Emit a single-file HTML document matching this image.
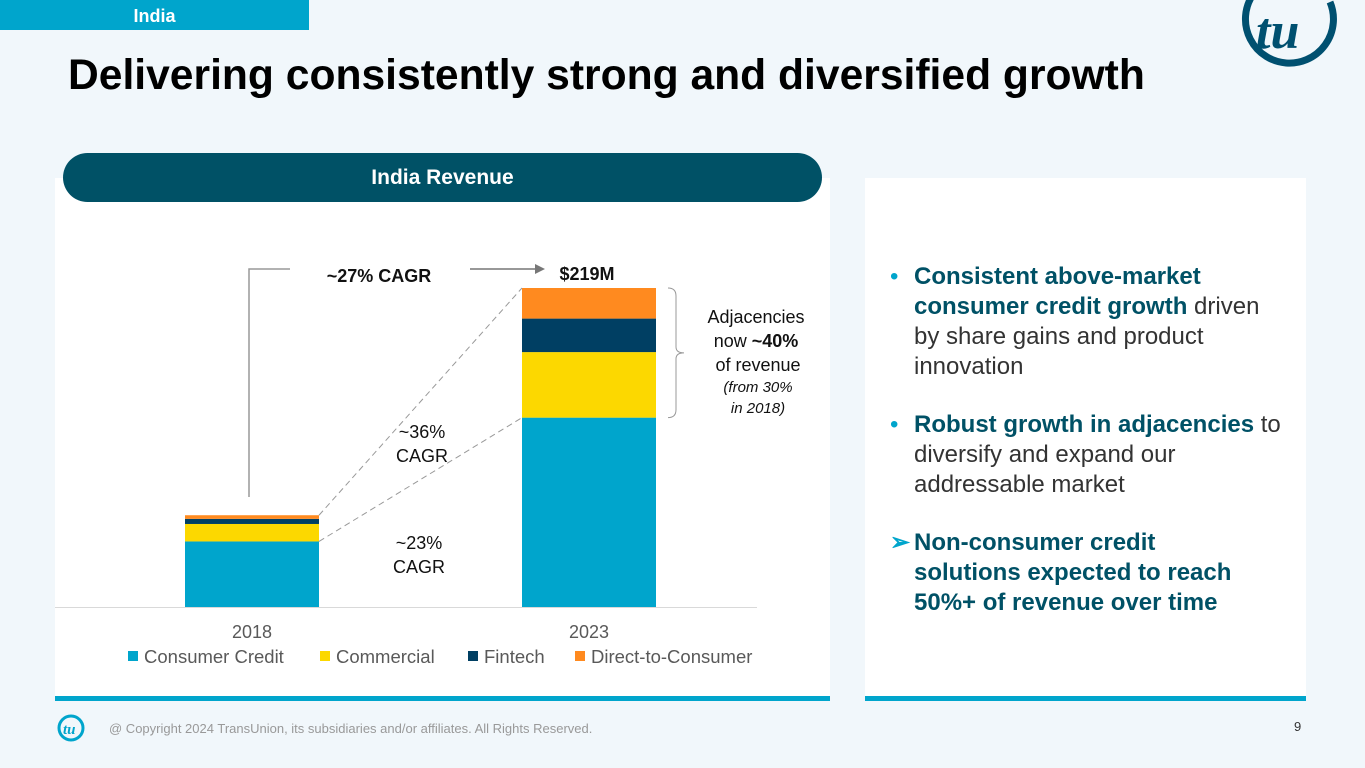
<!DOCTYPE html>
<html><head><meta charset="utf-8"><style>
body{margin:0;width:1365px;height:768px;background:#f1f7fb;font-family:"Liberation Sans",sans-serif;position:relative;overflow:hidden}
.a{position:absolute}
</style></head><body>
<div class="a" style="left:0;top:0;width:309px;height:30px;background:#00a5cc;color:#fff;font-weight:bold;font-size:18px;text-align:center;line-height:32px">India</div>
<div class="a" style="left:68px;top:51px;font-size:42.6px;font-weight:bold;color:#000;white-space:nowrap">Delivering consistently strong and diversified growth</div>
<svg class="a" style="left:1230px;top:0" width="120" height="80" viewBox="0 0 120 80">
<path d="M22 -4 A44 44 0 1 0 100 2" fill="none" stroke="#005070" stroke-width="7"/>
<text x="26" y="48" font-family="Liberation Serif,serif" font-style="italic" font-weight="bold" font-size="52" fill="#005070">tu</text>
</svg>
<div class="a" style="left:55px;top:178px;width:775px;height:518px;background:#fff;border-bottom:5px solid #00a5cc"></div>
<div class="a" style="left:865px;top:178px;width:441px;height:518px;background:#fff;border-bottom:5px solid #00a5cc"></div>
<div class="a" style="left:63px;top:153px;width:759px;height:49px;background:#005166;border-radius:25px;color:#fff;font-weight:bold;font-size:21px;text-align:center;line-height:50px">India Revenue</div>
<svg class="a" id="chart" style="left:0;top:0" width="1365" height="768"></svg>
<div class="a" style="left:890px;top:262px;width:400px;font-size:24px;line-height:30px;color:#333">
<div style="position:relative;padding-left:24px"><span style="position:absolute;left:0;color:#00a5cc">•</span><b style="color:#005166">Consistent above-market consumer credit growth</b> driven by share gains and product innovation</div>
<div style="position:relative;padding-left:24px;margin-top:28px"><span style="position:absolute;left:0;color:#00a5cc">•</span><b style="color:#005166">Robust growth in adjacencies</b> to diversify and expand our addressable market</div>
<div style="position:relative;padding-left:24px;margin-top:28px;font-weight:bold;color:#005166;width:350px"><span style="position:absolute;left:0;color:#00a5cc">➢</span>Non-consumer credit solutions expected to reach 50%+ of revenue over time</div>
</div>
<svg class="a" style="left:56px;top:713px" width="34" height="30"><circle cx="15" cy="15" r="12" fill="none" stroke="#00a5cc" stroke-width="3"/><text x="7" y="21" font-size="15" font-style="italic" font-weight="bold" fill="#00a5cc" font-family="Liberation Serif,serif">tu</text></svg>
<div class="a" style="left:109px;top:721px;font-size:13px;color:#999">@ Copyright 2024 TransUnion, its subsidiaries and/or affiliates.  All Rights Reserved.</div>
<div class="a" style="left:1294px;top:719px;font-size:13px;color:#333">9</div>
<script>
const categories=["2018","2023"];
const seriesNames=["Consumer Credit","Commercial","Fintech","Direct-to-Consumer"];
const consumerCredit=[45,130];
const commercial=[12,45];
const fintech=[3.5,23];
const dtc=[2.5,21];
const colors=["#00a5cc","#fcd800","#003f63","#ff8a1f"];
const svg=document.getElementById('chart');
const NS="http://www.w3.org/2000/svg";
const base=607, pxPer=319/219;
const y=v=>base-v*pxPer;
const xc=i=>252+i*337;
const bw=134;
function el(t,a){const e=document.createElementNS(NS,t);for(const k in a)e.setAttribute(k,a[k]);svg.appendChild(e);return e;}
const series=[consumerCredit,commercial,fintech,dtc];
const tops=[];
categories.forEach((c,i)=>{
  let cum=0;tops.push([]);
  series.forEach((s,j)=>{
    const r=el('rect',{x:xc(i)-bw/2,y:y(cum+s[i]),width:bw,height:s[i]*pxPer,fill:colors[j]});
    
    
    cum+=s[i];tops[i].push(y(cum));
  });
  const t=el('text',{x:xc(i),y:638,'text-anchor':'middle','font-size':18,fill:'#595959'});
  t.textContent=c;
  
  
});
el('line',{x1:55,x2:757,y1:base+0.5,y2:base+0.5,stroke:'#d9d9d9'});
const d={stroke:'#999','stroke-dasharray':'6,4',fill:'none'};
el('line',Object.assign({x1:xc(0)+bw/2,y1:tops[0][3],x2:xc(1)-bw/2,y2:tops[1][3]},d));
el('line',Object.assign({x1:xc(0)+bw/2,y1:tops[0][0],x2:xc(1)-bw/2,y2:tops[1][0]},d));
el('polyline',{points:`249,497 249,269 290,269`,stroke:'#999',fill:'none','stroke-width':1.5});
el('line',{x1:470,y1:269,x2:540,y2:269,stroke:'#777','stroke-width':1.5});
el('polygon',{points:'545,269 535,264 535,274',fill:'#777'});
const bt=tops[1][3],bb=tops[1][0],bm=(bt+bb)/2;
el('path',{d:`M668 ${bt} Q676 ${bt} 676 ${bt+8} L676 ${bm-6} Q676 ${bm} 684 ${bm} Q676 ${bm} 676 ${bm+6} L676 ${bb-8} Q676 ${bb} 668 ${bb}`,stroke:'#999',fill:'none'});
function txt(x,yy,s,o){const t=el('text',Object.assign({x:x,y:yy,'text-anchor':'middle','font-size':18,fill:'#111'},o||{}));t.innerHTML=s;return t;}
txt(379,282,'~27% CAGR',{'font-weight':'bold'});
txt(587,280,'$'+(consumerCredit[1]+commercial[1]+fintech[1]+dtc[1])+'M',{'font-weight':'bold'});
txt(422,438,'~36%');txt(422,462,'CAGR');
txt(419,549,'~23%');txt(419,573,'CAGR');
txt(756,323,'Adjacencies');
txt(756,347,'now <tspan font-weight="bold">~40%</tspan>');
txt(758,371,'of revenue');
txt(758,392,'(from 30%',{'font-style':'italic','font-size':15});
txt(758,413,'in 2018)',{'font-style':'italic','font-size':15});
let lx=128;
const lw=[192,148,107,190];
seriesNames.forEach((n,j)=>{
  const r=el('rect',{x:lx,y:651,width:10,height:10,fill:colors[j]});
  
  
  const t=el('text',{x:lx+16,y:663,'font-size':18.5,fill:'#595959'});
  t.textContent=n;
  
  
  lx+=lw[j];
});
</script>
</body></html>
